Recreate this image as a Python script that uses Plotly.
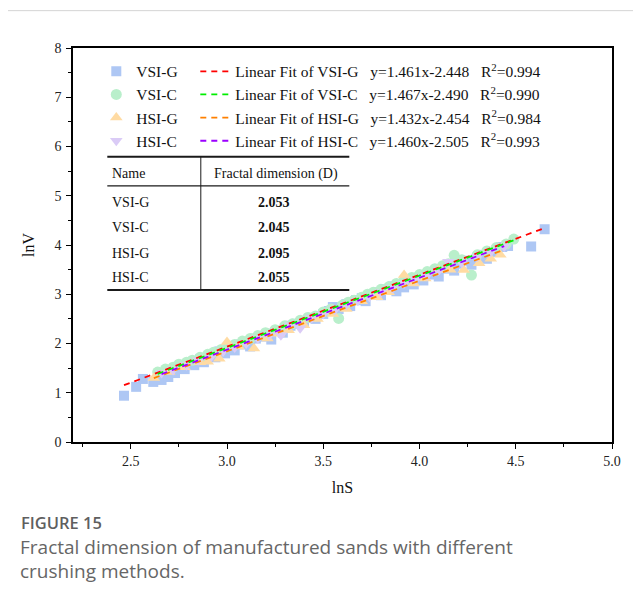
import plotly.graph_objects as go

# ---------------- data ----------------
vsig_x = [2.465, 2.528, 2.563, 2.617, 2.65, 2.66, 2.695, 2.70, 2.73, 2.76, 2.78, 2.80, 2.83, 2.86, 2.88,
          2.91, 2.94, 2.96, 2.99, 3.02, 3.04, 3.07, 3.10, 3.12, 3.15, 3.18, 3.21, 3.23, 3.26, 3.29,
          3.33, 3.36, 3.40, 3.43, 3.46, 3.50, 3.53, 3.55, 3.58, 3.62, 3.64, 3.67, 3.70, 3.72, 3.75,
          3.78, 3.80, 3.83, 3.86, 3.88, 3.90, 3.92, 3.95, 3.97, 4.00, 4.02, 4.05, 4.08, 4.10, 4.13,
          4.16, 4.18, 4.21, 4.24, 4.27, 4.30, 4.33, 4.35, 4.38, 4.40, 4.43, 4.46, 4.58, 4.65]
vsig_y = [0.94, 1.12, 1.28, 1.22, 1.35, 1.26, 1.32, 1.45, 1.40, 1.52, 1.48, 1.60, 1.56, 1.68, 1.62,
          1.75, 1.72, 1.84, 1.80, 1.90, 1.86, 1.98, 2.02, 1.94, 2.10, 2.14, 2.20, 2.08, 2.26, 2.22,
          2.36, 2.40, 2.44, 2.52, 2.50, 2.60, 2.66, 2.74, 2.70, 2.80, 2.76, 2.88, 2.92, 2.86, 3.00,
          3.04, 2.98, 3.10, 3.16, 3.06, 3.20, 3.14, 3.26, 3.20, 3.34, 3.28, 3.40, 3.46, 3.36, 3.52,
          3.58, 3.48, 3.62, 3.68, 3.60, 3.74, 3.80, 3.72, 3.86, 3.90, 3.96, 3.98, 3.97, 4.32]

vsic_x = [2.64, 2.68, 2.72, 2.75, 2.79, 2.82, 2.86, 2.90, 2.93, 2.97, 3.00, 3.04, 3.08, 3.12, 3.16,
          3.20, 3.25, 3.30, 3.34, 3.38, 3.42, 3.46, 3.50, 3.54, 3.58, 3.60, 3.63, 3.66, 3.70, 3.73,
          3.76, 3.80, 3.84, 3.88, 3.92, 3.96, 4.00, 4.04, 4.08, 4.12, 4.15, 4.18, 4.22, 4.27, 4.30,
          4.35, 4.40, 4.45, 4.49]
vsic_y = [1.42, 1.48, 1.52, 1.58, 1.62, 1.66, 1.72, 1.78, 1.82, 1.88, 1.93, 1.98, 2.05, 2.10, 2.16,
          2.22, 2.28, 2.36, 2.40, 2.47, 2.53, 2.56, 2.64, 2.70, 2.51, 2.78, 2.84, 2.88, 2.94, 3.00,
          3.04, 3.10, 3.15, 3.22, 3.28, 3.34, 3.40, 3.46, 3.52, 3.58, 3.62, 3.79, 3.70, 3.39, 3.80,
          3.88, 3.95, 4.02, 4.12]

hsig_x = [2.62, 2.70, 2.78, 2.86, 2.90, 2.96, 3.00, 3.06, 3.14, 3.21, 3.27, 3.32, 3.40, 3.47,
          3.55, 3.62, 3.70, 3.78, 3.84, 3.92, 3.97, 4.03, 4.10, 4.16, 4.23, 4.31, 4.37, 4.42]
hsig_y = [1.30, 1.42, 1.52, 1.62, 1.63, 1.69, 2.03, 1.94, 1.90, 2.10, 2.20, 2.27, 2.37, 2.50,
          2.60, 2.70, 2.86, 2.94, 3.04, 3.39, 3.22, 3.32, 3.49, 3.50, 3.49, 3.63, 3.72, 3.80]

hsic_x = [2.66, 2.72, 2.79, 2.85, 2.92, 2.98, 3.04, 3.10, 3.16, 3.22, 3.28, 3.33, 3.38, 3.44, 3.50,
          3.56, 3.62, 3.68, 3.74, 3.80, 3.86, 3.92, 3.98, 4.04, 4.10, 4.15, 4.22, 4.30, 4.37, 4.44]
hsic_y = [1.40, 1.46, 1.56, 1.66, 1.74, 1.84, 1.92, 2.00, 2.10, 2.17, 2.17, 2.37, 2.31, 2.52, 2.60,
          2.68, 2.78, 2.87, 2.95, 3.04, 3.12, 3.22, 3.30, 3.38, 3.48, 3.66, 3.64, 3.76, 3.86, 3.97]

series_names = ["VSI-G", "VSI-C", "HSI-G", "HSI-C"]
fit_slopes = [1.461, 1.467, 1.432, 1.460]
fit_intercepts = [-2.448, -2.490, -2.454, -2.505]
fit_r2 = ["0.994", "0.990", "0.984", "0.993"]

table_names = ["VSI-G", "VSI-C", "HSI-G", "HSI-C"]
table_D = ["2.053", "2.045", "2.095", "2.055"]

x_ticks = [2.5, 3.0, 3.5, 4.0, 4.5, 5.0]
y_ticks = [0, 1, 2, 3, 4, 5, 6, 7, 8]

# ---------------- styles ----------------
marker_colors = ["#AEC7F4", "#B9EFCB", "#FFDBA3", "#DACBF6"]
marker_symbols = ["square", "circle", "triangle-up", "triangle-down"]
marker_sizes = [10, 11, 11, 11]
line_colors = ["#FF0000", "#00EE00", "#FF8000", "#9B00FF"]
SERIF = "Liberation Serif"
SANS = "Open Sans"

OFF = 8  # page body margin of the html page
W, H = 641 - OFF, 599 - OFF
# plot area in screen pixels
PX0, PX1, PY0, PY1 = 72.7, 611.7, 48.3, 441.7
ML, MT = PX0 - OFF, PY0 - OFF
MR, MB = W - (PX1 - OFF), H - (PY1 - OFF)
PW, PH = PX1 - PX0, PY1 - PY0


def xp(px):  # screen px -> paper x
    return (px - PX0) / PW


def yp(py):  # screen px -> paper y
    return (PY1 - py) / PH


fig = go.Figure()
xs = [vsig_x, vsic_x, hsig_x, hsic_x]
ys = [vsig_y, vsic_y, hsig_y, hsic_y]

for i in range(4):
    fig.add_trace(go.Scatter(
        x=xs[i], y=ys[i], mode="markers", name=series_names[i],
        marker=dict(color=marker_colors[i], symbol=marker_symbols[i], size=marker_sizes[i],
                    line=dict(width=0)),
        legend="legend",
    ))

SP = "\u00a0\u00a0\u00a0"
for i in range(4):
    x0, x1 = min(xs[i]), max(xs[i])
    a, b = fit_slopes[i], fit_intercepts[i]
    sign = "-" if b < 0 else "+"
    label = ("Linear Fit of %s%sy=%.3fx%s%.3f%sR<sup>2</sup>=%s"
             % (series_names[i], SP, a, sign, abs(b), SP, fit_r2[i]))
    fig.add_trace(go.Scatter(
        x=[x0, x1], y=[a * x0 + b, a * x1 + b], mode="lines", name=label,
        line=dict(color=line_colors[i], width=1.8, dash="6px,5px"),
        legend="legend2",
    ))

shapes = []
annotations = []

# table lines
tx0, tx1 = xp(107), xp(349)
shapes.append(dict(type="line", xref="paper", yref="paper", x0=tx0, x1=tx1, y0=yp(157), y1=yp(157),
                   line=dict(color="#1a1a1a", width=2)))
shapes.append(dict(type="line", xref="paper", yref="paper", x0=tx0, x1=tx1, y0=yp(186), y1=yp(186),
                   line=dict(color="#1a1a1a", width=1.2)))
shapes.append(dict(type="line", xref="paper", yref="paper", x0=tx0, x1=tx1, y0=yp(290), y1=yp(290),
                   line=dict(color="#1a1a1a", width=2)))
shapes.append(dict(type="line", xref="paper", yref="paper", x0=xp(200.5), x1=xp(200.5), y0=yp(157), y1=yp(290),
                   line=dict(color="#1a1a1a", width=1)))

annotations.append(dict(text="Name", xref="paper", yref="paper", x=xp(110), y=yp(174),
                        xanchor="left", yanchor="middle", showarrow=False,
                        font=dict(family=SERIF, size=14, color="#111")))
annotations.append(dict(text="Fractal dimension (D)", xref="paper", yref="paper", x=xp(276), y=yp(174),
                        xanchor="center", yanchor="middle", showarrow=False,
                        font=dict(family=SERIF, size=14, color="#111")))
row_py = [202.5, 227.5, 253, 277.5]
for name, d, py in zip(table_names, table_D, row_py):
    annotations.append(dict(text=name, xref="paper", yref="paper", x=xp(110), y=yp(py),
                            xanchor="left", yanchor="middle", showarrow=False,
                            font=dict(family=SERIF, size=14, color="#111")))
    annotations.append(dict(text="<b>%s</b>" % d, xref="paper", yref="paper", x=xp(274), y=yp(py),
                            xanchor="center", yanchor="middle", showarrow=False,
                            font=dict(family=SERIF, size=14, color="#111")))

# card border
shapes.append(dict(type="line", xref="paper", yref="paper", x0=xp(6), x1=xp(660), y0=yp(11), y1=yp(11),
                   line=dict(color="#d4d4d4", width=1)))
shapes.append(dict(type="line", xref="paper", yref="paper", x0=xp(6), x1=xp(6), y0=yp(11), y1=yp(620),
                   line=dict(color="#d4d4d4", width=1)))

# caption
annotations.append(dict(text="FIGURE 15", xref="paper", yref="paper", x=xp(19), y=yp(522),
                        xanchor="left", yanchor="middle", showarrow=False,
                        font=dict(family=SANS, size=16.5, color="#5f5f5f", weight=600)))
annotations.append(dict(text="Fractal dimension of manufactured sands with different",
                        xref="paper", yref="paper", x=xp(18), y=yp(547),
                        xanchor="left", yanchor="middle", showarrow=False,
                        font=dict(family=SANS, size=19, color="#666666")))
annotations.append(dict(text="crushing methods.",
                        xref="paper", yref="paper", x=xp(18), y=yp(571),
                        xanchor="left", yanchor="middle", showarrow=False,
                        font=dict(family=SANS, size=19, color="#666666")))

axis_common = dict(
    showline=True, linecolor="#000", linewidth=1.5, mirror=True,
    ticks="outside", ticklen=5, tickwidth=1.3, tickcolor="#000",
    showgrid=False, zeroline=False,
    tickfont=dict(family=SERIF, size=14, color="#222"),
)

fig.update_layout(
    width=W, height=H,
    margin=dict(l=ML, r=MR, t=MT, b=MB, pad=0, autoexpand=False),
    paper_bgcolor="white", plot_bgcolor="white",
    font=dict(family=SERIF),
    xaxis=dict(range=[2.2, 5.0], tickvals=x_ticks, ticktext=["%.1f" % v for v in x_ticks],
               ticklabelstandoff=0,
               minor=dict(dtick=0.25, ticks="outside", ticklen=3, tickcolor="#000", tick0=2.25),
               title=dict(text="lnS", font=dict(family=SERIF, size=16, color="#111"), standoff=14),
               **axis_common),
    yaxis=dict(range=[0, 8], tickvals=y_ticks,
               ticklabelstandoff=2,
               minor=dict(dtick=0.5, ticks="outside", ticklen=3, tickcolor="#000"),
               title=dict(text="lnV", font=dict(family=SERIF, size=16, color="#111"), standoff=16),
               **axis_common),
    legend=dict(x=xp(96), y=yp(55), xanchor="left", yanchor="top", bgcolor="rgba(0,0,0,0)",
                font=dict(family=SERIF, size=15.5, color="#111"), tracegroupgap=0),
    legend2=dict(x=xp(195), y=yp(55), xanchor="left", yanchor="top", bgcolor="rgba(0,0,0,0)",
                 font=dict(family=SERIF, size=15.5, color="#111"), tracegroupgap=0),
    shapes=shapes,
    annotations=annotations,
    showlegend=True,
)

fig.write_html("out.html")
